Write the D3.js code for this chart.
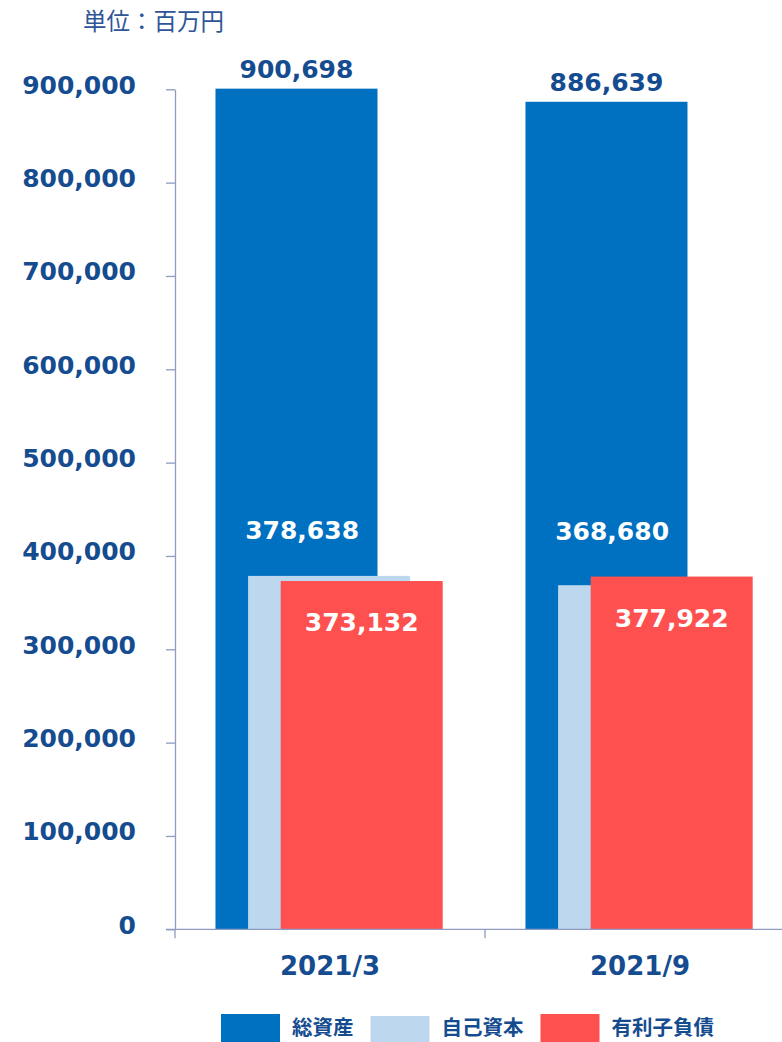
<!DOCTYPE html>
<html><head><meta charset="utf-8">
<script src="https://cdn.jsdelivr.net/npm/d3@7"></script>
<style>
html,body{margin:0;padding:0;background:#fff;}
svg{display:block;}
</style></head>
<body>
<svg id="chart" width="782" height="1042"></svg>
<script>
const categories = ["2021/3", "2021/9"];
const seriesNames = ["総資産", "自己資本", "有利子負債"];
const totalAssets = [900698, 886639];
const equity = [378638, 368680];
const debt = [373132, 377922];
const yTicks = [0, 100000, 200000, 300000, 400000, 500000, 600000, 700000, 800000, 900000];
const unitLabel = "単位：百万円";

const colors = ["#0070C0", "#BDD7EE", "#FF5050"];
const textBlue = "#154C90";
const axisColor = "#8E9BC2";
const numFont = "'DejaVu Sans', Verdana, sans-serif";
const cjkFont = "'Noto Sans CJK JP', sans-serif";

const svg = d3.select("#chart");
const y = d3.scaleLinear().domain([0, 900000]).range([929.3, 89.3]);
const x = d3.scaleBand().domain(categories).range([175, 795]).paddingInner(0).paddingOuter(0);
const bw = x.bandwidth();
// offset of each series' bar within a category band
const off = d3.scaleLinear().domain([0, 1]).range([bw * 0.1306, bw * 0.1306 + 32.6]);
const barW = 162;

const series = [totalAssets, equity, debt];

// unit label
svg.append("text").attr("x", 83).attr("y", 30)
  .attr("font-family", cjkFont).attr("font-size", 23.5).attr("fill", "#2F5597")
  .text(unitLabel);

// bars
series.forEach((vals, si) => {
  svg.append("g").selectAll("rect").data(categories).join("rect")
    .attr("x", (c) => x(c) + off(si))
    .attr("width", barW)
    .attr("y", (c, i) => y(vals[i]))
    .attr("height", (c, i) => y(0) - y(vals[i]))
    .attr("fill", colors[si]);
});

// y axis
const yAxis = d3.axisLeft(y).tickValues(yTicks).tickFormat(d3.format(","))
  .tickSize(9).tickSizeOuter(0).tickPadding(30);
const gy = svg.append("g").attr("transform", "translate(175,0)").call(yAxis);
gy.select(".domain").attr("stroke", axisColor).attr("stroke-width", 1.3);
gy.selectAll(".tick line").attr("stroke", axisColor).attr("stroke-width", 1.3);
gy.selectAll(".tick text").attr("font-family", numFont).attr("font-size", 25)
  .attr("font-weight", "bold").attr("fill", textBlue).attr("dy", "0.16em");

// x axis
const gx = svg.append("g");
gx.append("line").attr("x1", 166).attr("x2", 782).attr("y1", y(0)).attr("y2", y(0))
  .attr("stroke", axisColor).attr("stroke-width", 1.3);
const bounds = categories.map(c => x(c)).concat([x(categories[categories.length - 1]) + bw]);
gx.selectAll("line.tk").data(bounds).join("line").attr("class", "tk")
  .attr("x1", d => d).attr("x2", d => d).attr("y1", y(0)).attr("y2", y(0) + 9)
  .attr("stroke", axisColor).attr("stroke-width", 1.3);
gx.selectAll("text").data(categories).join("text")
  .attr("x", c => x(c) + bw / 2).attr("y", 975)
  .attr("text-anchor", "middle").attr("font-family", numFont).attr("font-size", 26)
  .attr("font-weight", "bold").attr("fill", textBlue).text(c => c);

const fmt = d3.format(",");
const lbl = svg.append("g").attr("font-family", numFont).attr("font-size", 25)
  .attr("font-weight", "bold").attr("text-anchor", "middle");
// total asset labels
lbl.selectAll("text.t").data(categories).join("text").attr("class", "t")
  .attr("x", c => x(c) + off(0) + barW / 2)
  .attr("y", (c, i) => y(totalAssets[i]) - 11)
  .attr("fill", textBlue).text((c, i) => fmt(totalAssets[i]));
// equity labels
lbl.selectAll("text.e").data(categories).join("text").attr("class", "e")
  .attr("x", c => x(c) + bw * 0.41)
  .attr("y", (c, i) => y(Math.max(equity[i], debt[i])) - 37)
  .attr("fill", "#fff").text((c, i) => fmt(equity[i]));
// debt labels
lbl.selectAll("text.d").data(categories).join("text").attr("class", "d")
  .attr("x", c => x(c) + off(2) + barW / 2)
  .attr("y", (c, i) => y(debt[i]) + 50)
  .attr("fill", "#fff").text((c, i) => fmt(debt[i]));

// legend
const lg = svg.append("g");
let lx = 221;
seriesNames.forEach((name, i) => {
  lg.append("rect").attr("x", lx).attr("y", i === 1 ? 1016 : 1014)
    .attr("width", 59).attr("height", 30).attr("fill", colors[i]);
  const t = lg.append("text").attr("x", lx + 71).attr("y", 1035)
    .attr("font-family", cjkFont).attr("font-size", 20.5).attr("font-weight", "bold")
    .attr("fill", textBlue).text(name);
  lx = lx + 71 + t.node().getComputedTextLength() + 17;
});
</script>
</body></html>
